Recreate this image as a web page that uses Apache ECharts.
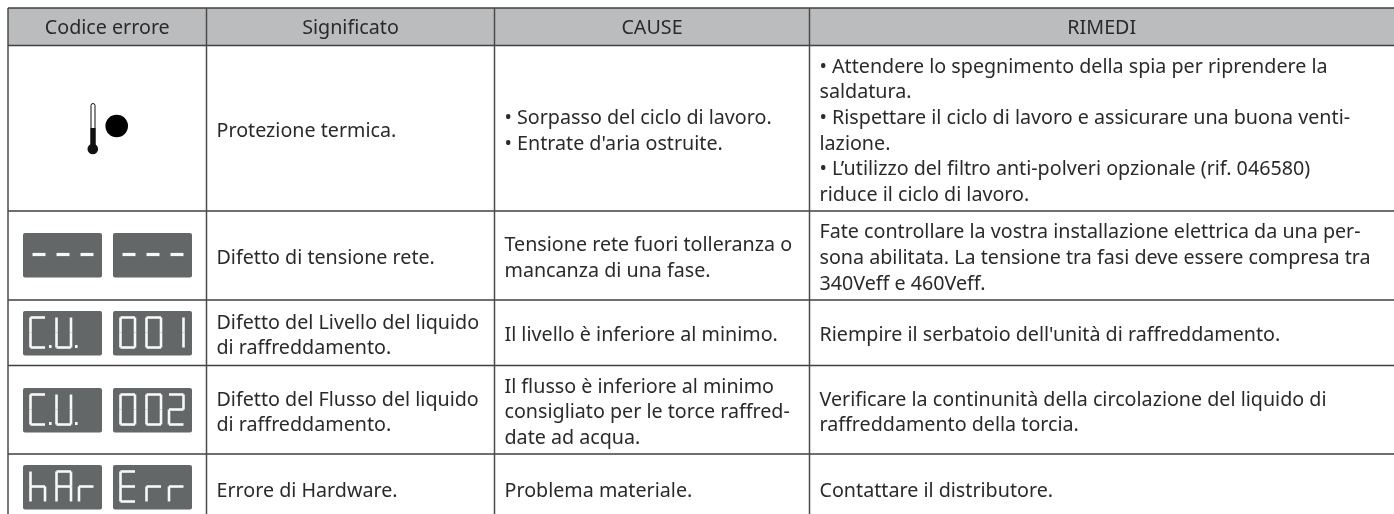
<!DOCTYPE html>
<html><head><meta charset="utf-8"><style>html,body{margin:0;padding:0;background:#fff}#c{width:1394px;height:514px}</style>
<script src="https://cdn.jsdelivr.net/npm/echarts@6/dist/echarts.min.js"></script></head><body><div id="c"></div>
<script>
const headers=["Codice errore","Significato","CAUSE","RIMEDI"];
const colX=[8,206.5,494.5,809.5,1394];
const rowY=[8,45.5,211,300,365.5,454,522];
const meaning=["Protezione termica.","Difetto di tensione rete.","Difetto del Livello del liquido\ndi raffreddamento.","Difetto del Flusso del liquido\ndi raffreddamento.","Errore di Hardware."];
const cause=["• Sorpasso del ciclo di lavoro.\n• Entrate d'aria ostruite.","Tensione rete fuori tolleranza o\nmancanza di una fase.","Il livello è inferiore al minimo.","Il flusso è inferiore al minimo\nconsigliato per le torce raffred-\ndate ad acqua.","Problema materiale."];
const remedy=["• Attendere lo spegnimento della spia per riprendere la\nsaldatura.\n• Rispettare il ciclo di lavoro e assicurare una buona venti-\nlazione.\n• L’utilizzo del filtro anti-polveri opzionale (rif. 046580)\nriduce il ciclo di lavoro.","Fate controllare la vostra installazione elettrica da una per-\nsona abilitata. La tensione tra fasi deve essere compresa tra\n340Veff e 460Veff.","Riempire il serbatoio dell'unità di raffreddamento.","Verificare la continunità della circolazione del liquido di\nraffreddamento della torcia.","Contattare il distributore."];
const displays=[null,["---","---"],["C.U.","001"],["C.U.","002"],["hAr","Err"]];
const displayTop=[0,233,311,388,465];
const displayX=[23,113];
const digitOff=[7.5,33.5,56];
const dashOff=[9.5,33.5,57.5];
const segMap={'-':'g','0':'abcdef','1':'bc','2':'abged','C':'afed','U':'bcdef','h':'fegc','A':'abcefg','r':'eg','E':'afged'};
const font='"Noto Sans",sans-serif';
const g=[];
g.push({type:'rect',shape:{x:colX[0],y:rowY[0],width:colX[4]-colX[0],height:rowY[1]-rowY[0]},style:{fill:'#babcbe'}});
rowY.slice(0,6).forEach(y=>g.push({type:'line',shape:{x1:colX[0],y1:y,x2:colX[4],y2:y},style:{stroke:'#3f3f3f',lineWidth:1.5}}));
colX.slice(0,4).forEach(x=>g.push({type:'line',shape:{x1:x,y1:rowY[0],x2:x,y2:rowY[6]},style:{stroke:'#4a4a4a',lineWidth:1.5}}));
const txt=(s,x,y,align)=>g.push({type:'text',style:{text:s,x,y,align:align,verticalAlign:'middle',font:'19.7px '+font,lineHeight:25.7,fill:'#2a2a2a'}});
headers.forEach((h,i)=>txt(h,(colX[i]+colX[i+1])/2,28.5,'center'));
function drawChar(ch,x,top,w,h,lw){
  const s=segMap[ch]||'';const mid=top+h/2;
  const P={a:[x,top,x+w,top],b:[x+w,top,x+w,mid],c:[x+w,mid,x+w,top+h],d:[x,top+h,x+w,top+h],e:[x,mid,x,top+h],f:[x,top,x,mid],g:[x,mid,x+w,mid]};
  for(const k of s){const p=P[k];g.push({type:'line',shape:{x1:p[0],y1:p[1],x2:p[2],y2:p[3]},style:{stroke:'#f8f8f8',lineWidth:lw}});}
}
for(let r=0;r<5;r++){const m=(rowY[r+1]+rowY[r+2])/2+3;txt(meaning[r],colX[1]+10,m,'left');txt(cause[r],colX[2]+10,m,'left');txt(remedy[r],colX[3]+10,m,'left');
 if(displays[r]){displayX.forEach((x,k)=>{const top=displayTop[r];
  g.push({type:'rect',shape:{x,y:top,width:79,height:44.5,r:2},style:{fill:'#636767'}});
  const str=displays[r][k];const chars=str.replace(/\./g,'').split('');const dotted=str.indexOf('.')>=0;const dash=str[0]==='-';
  chars.forEach((ch,i)=>{const cx=x+(dash?dashOff[i]:digitOff[i]);
    if(dash)drawChar(ch,cx,top+6.5,13,30,3.2);else drawChar(ch,cx,top+6.5,14.5,30,2.6);
    if(dotted)g.push({type:'rect',shape:{x:cx+18.5,y:top+34,width:2.6,height:3},style:{fill:'#f8f8f8'}});});
 });}
}
g.push({type:'rect',shape:{x:91,y:103.5,width:4,height:46,r:2},style:{fill:'#fff',stroke:'#111',lineWidth:1}});
g.push({type:'rect',shape:{x:90.5,y:128,width:5,height:20},style:{fill:'#111'}});
g.push({type:'circle',shape:{cx:92.8,cy:149,r:5.3},style:{fill:'#111'}});
g.push({type:'circle',shape:{cx:116.7,cy:126,r:11.3},style:{fill:'#000'}});
const ch=echarts.init(document.getElementById('c'),null,{renderer:'canvas'});
ch.setOption({animation:false,graphic:{elements:g}});
</script></body></html>
